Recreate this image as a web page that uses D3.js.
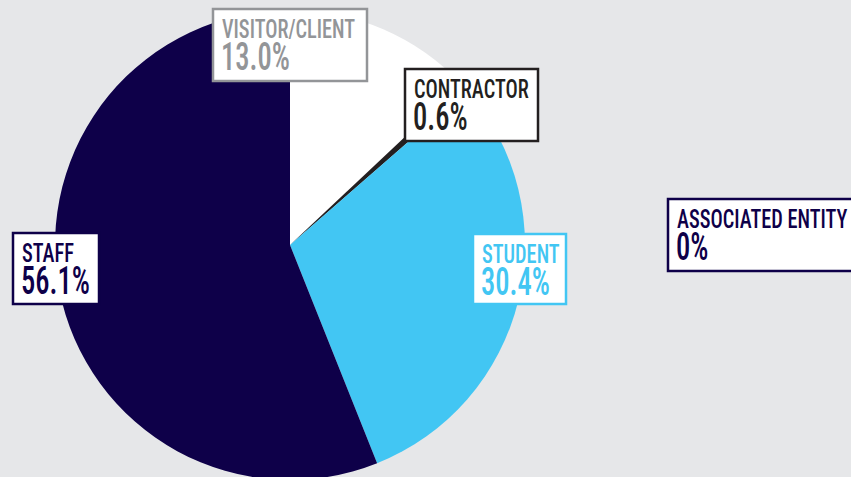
<!DOCTYPE html>
<html>
<head>
<meta charset="utf-8">
<script src="https://cdn.jsdelivr.net/npm/d3@7"></script>
<style>
    html, body { margin: 0; padding: 0; background: #e6e7e9; }
    svg { display: block; }
</style>
</head>
<body>
<div id="chart"></div>
<script>
// data
const categories = ["VISITOR/CLIENT", "CONTRACTOR", "STUDENT", "STAFF", "ASSOCIATED ENTITY"];
const values = [13.0, 0.6, 30.4, 56.1, 0];
const value_labels = ["13.0%", "0.6%", "30.4%", "56.1%", "0%"];

// styles
const colors = ["#ffffff", "#231f20", "#42c6f3", "#0e0049", "#0e0049"];
const text_colors = ["#939598", "#231f20", "#42c6f3", "#0e0049", "#0e0049"];
// label boxes [x, y, w, h]
const boxes = [
    [213, 9, 154, 72],
    [405, 69, 133, 72],
    [473, 234, 93, 70],
    [13, 233, 86, 71],
    [668, 199, 190, 72]
];

const w = 851;
const h = 477;
const cx = 290;
const cy = 245;
const radius = 235;
const label_size = 25;
const value_size = 39;
const weight = 500;

const svg = d3.select("#chart")
    .append("svg")
    .attr("width", w)
    .attr("height", h);

svg.append("rect")
    .attr("width", w)
    .attr("height", h)
    .attr("fill", "#e6e7e9");

const pie = d3.pie().sort(null).value(d => d);
const arc = d3.arc().innerRadius(0).outerRadius(radius);

const g = svg.append("g").attr("transform", `translate(${cx},${cy})`);
g.selectAll("path")
    .data(pie(values))
    .join("path")
    .attr("d", arc)
    .attr("fill", (d, i) => colors[i]);

// condensed look: measure a sample, squeeze all text by the same factor
const font = "'Liberation Sans Narrow', 'Roboto Condensed', 'DejaVu Sans Condensed', 'Roboto', sans-serif";
function measure(txt, size) {
    const t = svg.append("text")
        .attr("font-family", font)
        .attr("font-weight", weight)
        .attr("font-size", size)
        .text(txt);
    const len = t.node().getComputedTextLength();
    t.remove();
    return len;
}
const squeeze_label = 52 / measure("STAFF", label_size);
const squeeze_value = 69 / measure("56.1%", value_size);

const labels = svg.selectAll("g.label")
    .data(categories)
    .join("g")
    .attr("class", "label");

labels.append("rect")
    .attr("x", (d, i) => boxes[i][0])
    .attr("y", (d, i) => boxes[i][1])
    .attr("width", (d, i) => boxes[i][2])
    .attr("height", (d, i) => boxes[i][3])
    .attr("fill", "#ffffff")
    .attr("stroke", (d, i) => text_colors[i])
    .attr("stroke-width", 2.5);

labels.append("text")
    .attr("transform", (d, i) => `translate(${boxes[i][0] + 9},${boxes[i][1] + 29}) scale(${squeeze_label},1)`)
    .attr("font-family", font)
    .attr("font-weight", weight)
    .attr("font-size", label_size)
    .attr("fill", (d, i) => text_colors[i])
    .text(d => d);

labels.append("text")
    .attr("transform", (d, i) => `translate(${boxes[i][0] + 8},${boxes[i][1] + 61}) scale(${squeeze_value},1)`)
    .attr("font-family", font)
    .attr("font-weight", weight)
    .attr("font-size", value_size)
    .attr("fill", (d, i) => text_colors[i])
    .text((d, i) => value_labels[i]);
</script>
</body>
</html>
